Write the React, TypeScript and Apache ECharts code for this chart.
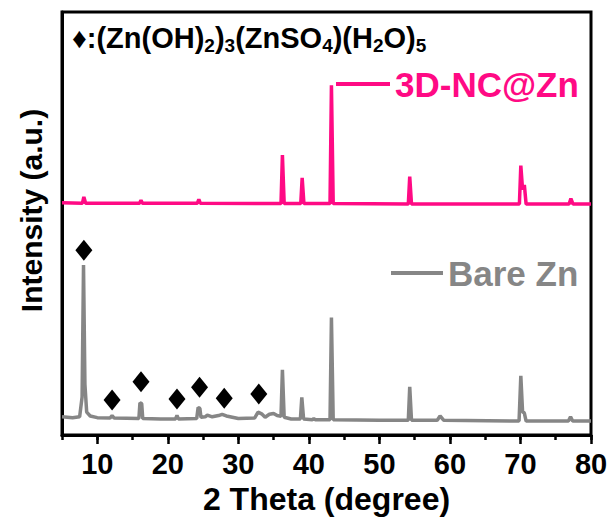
import React, { useEffect, useRef } from "react";
import * as echarts from "echarts";

const FONT = "'Liberation Sans', Arial, Helvetica, sans-serif";
const PINK = "#FF0A84";
const GRAY = "#868686";

// X axis (2 theta, degree)
const xMin = 5;
const xMax = 80;
const labelledTicks = [10, 20, 30, 40, 50, 60, 70, 80];

// Bare Zn pattern: [2theta, intensity (offset units)]
const bareZnPattern: [number, number][] = [
  [5, 4.3], [6.5, 4.1], [7.5, 4.3], [7.85, 9], [8.05, 40.2], [8.25, 12], [8.5, 5.4], [9, 4.5], [10, 4.1],
  [11.8, 4.0], [12.1, 4.6], [12.4, 4.0], [15.9, 3.9], [16.05, 7.6], [16.3, 7.4], [16.45, 3.9],
  [19, 3.8], [21.1, 3.8], [21.3, 4.6], [21.5, 3.8], [24.1, 3.9], [24.3, 6.5], [24.55, 6.3], [24.7, 4.2],
  [25.3, 4.3], [25.6, 4.7], [26.3, 4.3], [27.2, 4.6], [27.7, 4.9], [28.3, 4.5], [30, 3.9],
  [32.3, 4.0], [32.8, 5.4], [33.3, 5.0], [33.8, 4.2], [34.4, 4.9], [35.0, 5.1], [35.5, 4.6],
  [36.05, 4.4], [36.25, 15.4], [36.5, 4.2], [37.5, 3.8], [38.8, 3.8], [39.0, 8.9], [39.25, 3.8],
  [40.5, 3.6], [40.7, 3.9], [40.9, 3.6], [43.0, 3.6], [43.2, 27.8], [43.45, 3.6], [50, 3.5],
  [54.1, 3.5], [54.3, 11.4], [54.55, 3.5], [58.2, 3.5], [58.6, 4.5], [59.1, 3.5],
  [69.8, 3.3], [70.05, 14.0], [70.3, 5.5], [70.55, 5.2], [70.8, 3.3], [76.8, 3.3], [77.1, 4.3], [77.4, 3.3], [80, 3.3],
];

// 3D-NC@Zn pattern: [2theta, intensity (offset units)]
const ncZnPattern: [number, number][] = [
  [5, 54.9], [7.9, 54.8], [8.1, 56.3], [8.35, 54.8], [16.0, 54.8], [16.2, 55.5], [16.4, 54.8],
  [24.2, 54.8], [24.4, 55.7], [24.6, 54.8], [36.05, 54.7], [36.25, 66.2], [36.5, 54.7],
  [38.85, 54.7], [39.05, 60.8], [39.3, 54.7], [43.0, 54.7], [43.2, 82.7], [43.45, 54.7],
  [54.1, 54.6], [54.3, 61.1], [54.55, 54.6], [69.85, 54.6], [70.05, 63.7], [70.3, 58.0], [70.55, 59.1], [70.8, 54.6],
  [76.9, 54.6], [77.15, 55.9], [77.45, 54.6], [80, 54.6],
];

// Diamond markers for (Zn(OH)2)3(ZnSO4)(H2O)5 reflections
const diamondMarks: [number, number][] = [
  [8.1, 43.7], [12.1, 8.3], [16.2, 12.6], [21.3, 8.5], [24.5, 11.3], [28.0, 8.7], [32.9, 9.7],
];

const GRID_LEFT = 62;
const GRID_RIGHT = 25;
const GRID_TOP = 12;
const GRID_BOTTOM = 89;
const PLOT_W = 616 - GRID_LEFT - GRID_RIGHT;
const MAJOR_LEFT = GRID_LEFT + ((labelledTicks[0] - xMin) / (xMax - xMin)) * PLOT_W;

export default function App() {
  const ref = useRef<HTMLDivElement>(null);
  useEffect(() => {
    if (!ref.current) return;
    const chart = echarts.init(ref.current, null, { renderer: "svg" });
    chart.setOption({
      animation: false,
      backgroundColor: "#fff",
      grid: [
        { left: GRID_LEFT, right: GRID_RIGHT, top: GRID_TOP, bottom: GRID_BOTTOM, show: true, borderColor: "#000", borderWidth: 3 },
        { left: MAJOR_LEFT, right: GRID_RIGHT, top: GRID_TOP, bottom: GRID_BOTTOM },
      ],
      xAxis: [
        {
          type: "value", gridIndex: 0, min: xMin, max: xMax, interval: 5,
          name: "2 Theta (degree)", nameLocation: "middle", nameGap: 44,
          nameTextStyle: { fontSize: 32, fontWeight: "bold", color: "#000", fontFamily: FONT },
          axisLine: { show: true, lineStyle: { color: "#000", width: 3 } },
          axisTick: { show: true, length: 5, lineStyle: { color: "#000", width: 2.5 } },
          axisLabel: {
            margin: 14, fontSize: 29, fontWeight: "bold", color: "#000", fontFamily: FONT,
            formatter: (v: number) => (labelledTicks.includes(v) ? String(v) : ""),
          },
          splitLine: { show: false },
        },
        {
          type: "value", gridIndex: 1, min: labelledTicks[0], max: xMax, interval: 10,
          axisLine: { show: false },
          axisTick: { show: true, length: 9, lineStyle: { color: "#000", width: 2.5 } },
          axisLabel: { show: false },
          splitLine: { show: false },
        },
      ],
      yAxis: [
        {
          type: "value", gridIndex: 0, min: 0, max: 100,
          name: "Intensity (a.u.)", nameLocation: "middle", nameGap: 16,
          nameTextStyle: { fontSize: 30, fontWeight: "bold", color: "#000", fontFamily: FONT, padding: [0, 0, 0, 26] },
          axisLine: { show: true, lineStyle: { color: "#000", width: 3 } },
          axisTick: { show: false },
          axisLabel: { show: false },
          splitLine: { show: false },
        },
        { type: "value", gridIndex: 1, min: 0, max: 100, show: false },
      ],
      legend: [
        {
          left: 336, top: 66, padding: 0, selectedMode: false, itemWidth: 54, itemHeight: 4,
          data: [{ name: "3D-NC@Zn", icon: "rect" }],
          textStyle: { fontSize: 35, fontWeight: "bold", color: PINK, fontFamily: FONT, lineHeight: 36 },
        },
        {
          left: 391, top: 255, padding: 0, selectedMode: false, itemWidth: 52, itemHeight: 4,
          data: [{ name: "Bare Zn", icon: "rect" }],
          textStyle: { fontSize: 35, fontWeight: "bold", color: GRAY, fontFamily: FONT, lineHeight: 36 },
        },
      ],
      graphic: [
        {
          type: "text", left: 72, top: 23, silent: true,
          style: {
            text: "{m|♦:(Zn(OH)}{s|2}{m|)}{s|3}{m|(ZnSO}{s|4}{m|)(H}{s|2}{m|O)}{s|5}",
            rich: {
              m: { fontSize: 29, fontWeight: "bold", fontFamily: FONT, color: "#000", lineHeight: 35 },
              s: { fontSize: 19, fontWeight: "bold", fontFamily: FONT, color: "#000", lineHeight: 19, verticalAlign: "bottom" },
            },
          },
        },
      ],
      series: [
        {
          name: "3D-NC@Zn", type: "line", xAxisIndex: 0, yAxisIndex: 0, data: ncZnPattern,
          showSymbol: false, symbol: "none", color: PINK, lineStyle: { color: PINK, width: 3.5 }, z: 3,
        },
        {
          name: "Bare Zn", type: "line", xAxisIndex: 0, yAxisIndex: 0, data: bareZnPattern,
          showSymbol: false, symbol: "none", color: GRAY, lineStyle: { color: GRAY, width: 3.5 }, z: 2,
        },
        {
          name: "(Zn(OH)2)3(ZnSO4)(H2O)5", type: "scatter", xAxisIndex: 0, yAxisIndex: 0, data: diamondMarks,
          symbol: "diamond", symbolSize: [17, 21], itemStyle: { color: "#000", opacity: 1 }, z: 4,
        },
      ],
    });
    return () => chart.dispose();
  }, []);
  return <div ref={ref} style={{ width: 616, height: 524, position: "absolute", left: 0, top: 0 }} />;
}
